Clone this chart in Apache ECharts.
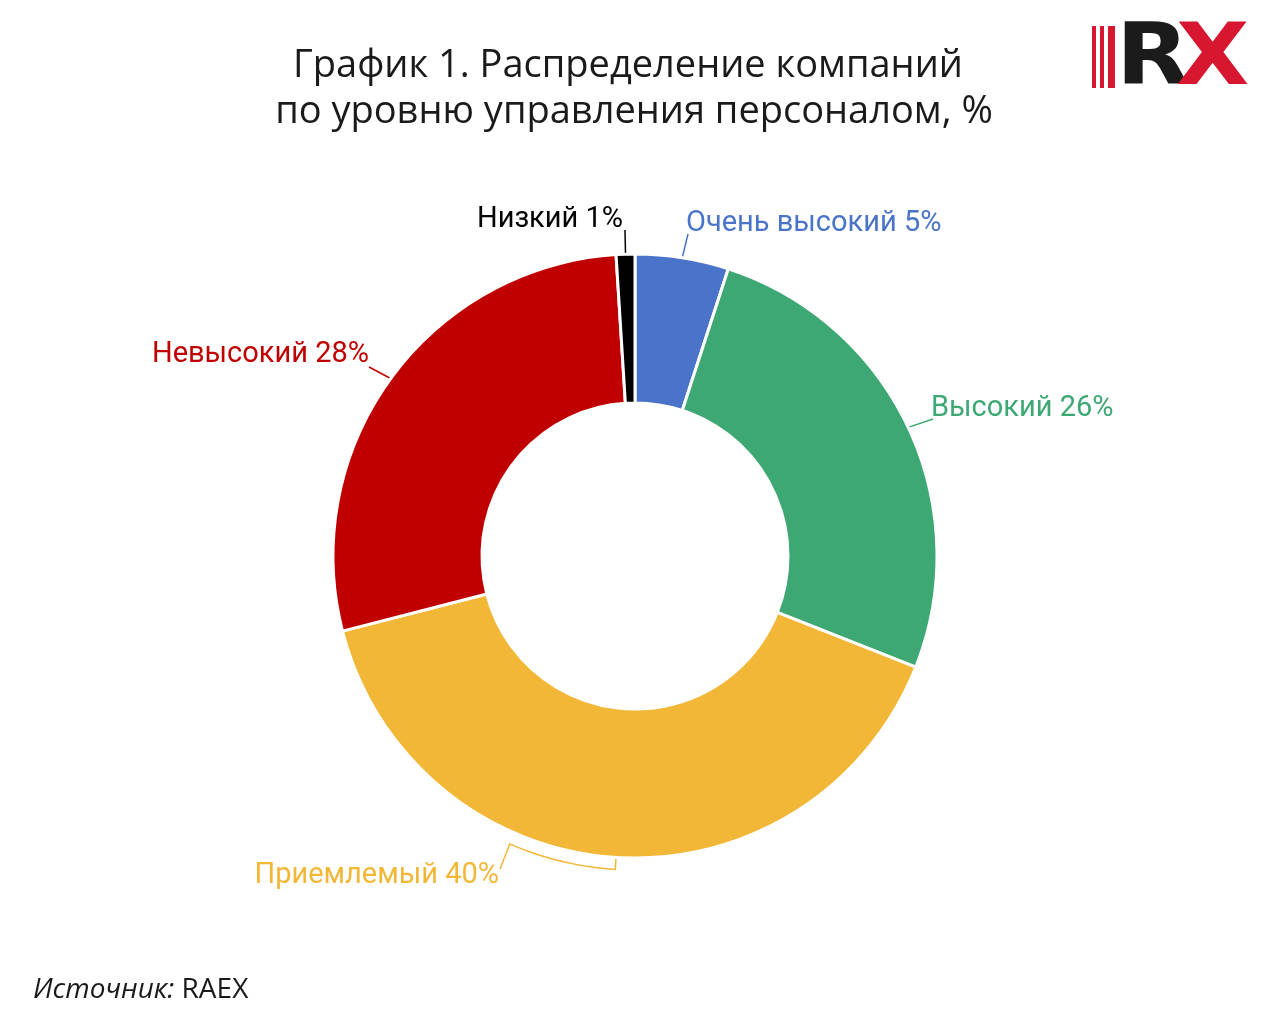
<!DOCTYPE html>
<html><head><meta charset="utf-8">
<script src="https://cdn.jsdelivr.net/npm/echarts@6/dist/echarts.min.js"></script>
<style>html,body{margin:0;padding:0;background:#fff}#c{width:1280px;height:1029px}</style>
</head><body><div id="c"></div>
<script>
// ---- data ----
const categories = ['Очень высокий', 'Высокий', 'Приемлемый', 'Невысокий', 'Низкий'];
const values = [5, 26, 40, 28, 1];
const colors = ['#4a74c9', '#3ea874', '#f2b736', '#c00000', '#000000'];
const titleLines = ['График 1. Распределение компаний', 'по уровню управления персоналом, %'];
const sourceText = 'RAEX';

// ---- layout ----
const CX = 635, CY = 556, R0 = 153, R1 = 302;
const labelPos = {
  'Низкий':        {x: 623, y: 220, align: 'right', end: [625, 230]},
  'Очень высокий': {x: 686, y: 224, align: 'left',  end: [688, 234]},
  'Высокий':       {x: 931, y: 409, align: 'left',  end: [933, 419]},
  'Невысокий':     {x: 369, y: 355, align: 'right', end: [369, 367]},
  'Приемлемый':    {x: 499, y: 876, align: 'right', end: [500, 869], bracket: [183.6, 203.5, R1 + 12]}
};

const chart = echarts.init(document.getElementById('c'), null, {renderer: 'canvas'});
const seriesData = categories.map((n, i) => ({
  name: n, value: values[i],
  itemStyle: {color: colors[i]},
  label: {color: colors[i]},
  labelLine: {lineStyle: {color: colors[i]}}
}));

function polar(angDeg, r) {
  const a = angDeg * Math.PI / 180;
  return [CX + r * Math.sin(a), CY - r * Math.cos(a)];
}

const titleStyle = {fontFamily: 'Open Sans', fontSize: 38, fill: '#1a1a1a', align: 'center', verticalAlign: 'middle'};

chart.setOption({
  backgroundColor: '#fff',
  animation: false,
  graphic: [
    {type: 'text', x: 628, y: 66, style: Object.assign({text: titleLines[0]}, titleStyle)},
    {type: 'text', x: 634, y: 112, style: Object.assign({text: titleLines[1]}, titleStyle)},
    {type: 'group', x: 1092, y: 26, children: [
      {type: 'rect', shape: {x: 0, y: 0, width: 4, height: 62}, style: {fill: '#d7172f'}},
      {type: 'rect', shape: {x: 8, y: 0, width: 4, height: 62}, style: {fill: '#d7172f'}},
      {type: 'rect', shape: {x: 16, y: 0, width: 7, height: 62}, style: {fill: '#d7172f'}},
      {type: 'text', x: 24, y: 36, scaleX: 1.12, style: {text: 'R', fontFamily: 'DejaVu Sans', fontWeight: 'bold', fontSize: 85, fill: '#1b1b1b', verticalAlign: 'middle'}},
      {type: 'text', x: 84, y: 36, scaleX: 1.12, style: {text: 'X', fontFamily: 'DejaVu Sans', fontWeight: 'bold', fontSize: 85, fill: '#d7172f', verticalAlign: 'middle'}},
      {type: 'polygon', shape: {points: [[155, 21], [142, 31], [155, 41]]}, style: {fill: '#fff'}}
    ]},
    {type: 'text', x: 33, y: 990, style: {
      text: '{i|Источник:} ' + sourceText,
      rich: {i: {fontStyle: 'italic', fontFamily: 'Open Sans', fontSize: 28, fill: '#1a1a1a'}},
      fontFamily: 'Open Sans', fontSize: 28, fill: '#1a1a1a', verticalAlign: 'middle'
    }}
  ],
  series: [{
    type: 'pie',
    center: [CX, CY],
    radius: [R0, R1],
    startAngle: 90,
    clockwise: true,
    itemStyle: {borderColor: '#fff', borderWidth: 3},
    label: {
      show: true, position: 'outside',
      formatter: p => p.name + ' ' + p.value + '%',
      fontFamily: 'Roboto', fontSize: 29
    },
    labelLine: {show: true, length: 10, length2: 10, smooth: false, lineStyle: {width: 1.5}},
    labelLayout: function (params) {
      const name = categories[params.dataIndex];
      const lp = labelPos[name];
      const start = params.labelLinePoints[0];
      let pts;
      if (lp.bracket) {
        const [a0, a1, r] = lp.bracket;
        pts = [start];
        for (let k = 0; k <= 20; k++) {
          pts.push(polar(a0 + (a1 - a0) * k / 20, r));
        }
        pts.push(lp.end);
      } else {
        pts = [start, lp.end];
      }
      return {x: lp.x, y: lp.y, align: lp.align, verticalAlign: 'middle', labelLinePoints: pts};
    },
    data: seriesData
  }]
});
</script></body></html>
